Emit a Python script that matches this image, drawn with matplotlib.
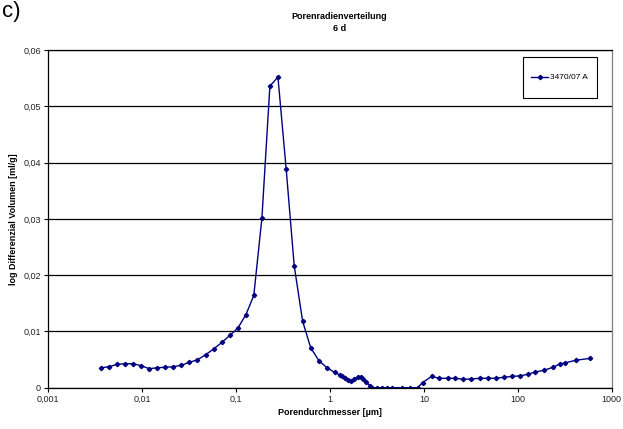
import matplotlib
matplotlib.use("Agg")
import matplotlib.pyplot as plt
from matplotlib.ticker import FixedLocator, NullLocator
from matplotlib.patches import Rectangle

plt.rcParams['font.family'] = ['Liberation Sans', 'DejaVu Sans']

# Pore diameter [µm]
diameter = [0.00366, 0.00449, 0.00546, 0.00664, 0.00807, 0.00984, 0.0120, 0.0146,
            0.0177, 0.0215, 0.0262, 0.0318, 0.0387, 0.0476, 0.0579, 0.0710, 0.0863,
            0.105, 0.128, 0.155, 0.189, 0.230, 0.280, 0.343, 0.417, 0.513, 0.625,
            0.764, 0.929, 1.13, 1.28, 1.36, 1.45, 1.57, 1.67, 1.82, 1.97, 2.12, 2.26,
            2.45, 2.67, 2.84, 3.18, 3.57, 4.01, 4.53, 5.79, 7.10, 8.57, 9.68, 12.1,
            14.6, 17.9, 21.7, 26.4, 32.1, 39.4, 48.0, 58.3, 71.0, 86.3, 105, 129, 154,
            191, 234, 280, 316, 421, 587]
# log differential volume [ml/g]
volume = [0.00355, 0.00373, 0.00416, 0.00426, 0.00426, 0.00390, 0.00337, 0.00355,
          0.00362, 0.00373, 0.00398, 0.00451, 0.00492, 0.00586, 0.00687, 0.00806,
          0.00930, 0.0106, 0.0130, 0.0164, 0.0301, 0.0536, 0.0552, 0.0388, 0.0217,
          0.0118, 0.0071, 0.0048, 0.00355, 0.0027, 0.00225, 0.0020, 0.00167, 0.00137,
          0.00124, 0.00155, 0.00185, 0.00185, 0.00155, 0.00096, 0.00036, 0, 0, 0, 0,
          0, 0, 0, 0, 0.0009, 0.0020, 0.00167, 0.00167, 0.00167, 0.00149, 0.00155,
          0.00167, 0.00167, 0.00167, 0.00185, 0.0020, 0.0021, 0.0024, 0.0028, 0.0031,
          0.0036, 0.0042, 0.0044, 0.0049, 0.0052]

x_ticks = [0.001, 0.01, 0.1, 1, 10, 100, 1000]
x_labels = ["0,001", "0,01", "0,1", "1", "10", "100", "1000"]
y_ticks = [0, 0.01, 0.02, 0.03, 0.04, 0.05, 0.06]
y_labels = ["0", "0,01", "0,02", "0,03", "0,04", "0,05", "0,06"]

fig = plt.figure(figsize=(6.23, 4.29), dpi=100)
ax = fig.add_axes([0.077, 0.0963, 0.905, 0.787])

ax.plot(diameter, volume, color='#000080', lw=1.0, marker='D', markersize=2.2,
        label='3470/07 A')
ax.set_xscale('log')
ax.set_xlim(0.001, 1000)
ax.set_ylim(0, 0.06)
ax.xaxis.set_major_locator(FixedLocator(x_ticks))
ax.xaxis.set_minor_locator(NullLocator())
ax.set_xticks(x_ticks)
ax.set_xticklabels(x_labels)
ax.set_yticks(y_ticks)
ax.set_yticklabels(y_labels)
ax.tick_params(axis='both', labelsize=6.5, length=3, width=0.8, color='black',
               labelcolor='#222222', pad=2)
ax.yaxis.grid(True, color='black', lw=0.9)
ax.set_axisbelow(True)
for s in ['left', 'bottom', 'top']:
    ax.spines[s].set_color('black')
    ax.spines[s].set_linewidth(0.9)
ax.spines['right'].set_color('#808080')
ax.spines['right'].set_linewidth(0.9)

ax.set_xlabel('Porendurchmesser [µm]', fontsize=6.5, fontweight='bold', labelpad=3)
ax.set_ylabel('log Differenzial Volumen [ml/g]', fontsize=6.5, fontweight='bold', labelpad=4)

fig.text(0.545, 0.962, 'Porenradienverteilung', fontsize=6.5, fontweight='bold',
         ha='center', va='center')
fig.text(0.545, 0.934, '6 d', fontsize=6.5, fontweight='bold', ha='center', va='center')
fig.text(0.003, 0.998, 'c)', fontsize=16, ha='left', va='top')

# legend box
ax.add_patch(Rectangle((0.842, 0.858), 0.131, 0.121, transform=ax.transAxes,
                       facecolor='white', edgecolor='black', lw=0.8, zorder=4))
leg = ax.legend(loc='center', bbox_to_anchor=(0.9078, 0.9186), fontsize=6,
                frameon=False, handlelength=2.0, handletextpad=0.3, borderpad=0)
leg.set_zorder(5)

fig.savefig('out.png', dpi=100)
